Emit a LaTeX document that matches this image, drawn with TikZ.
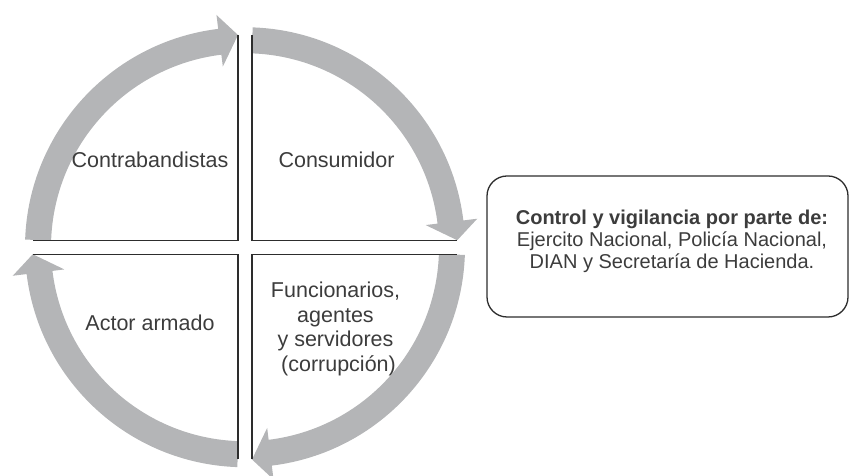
\documentclass[tikz,border=0pt]{standalone}
\usepackage{fontspec}
\setmainfont{Liberation Sans}
\definecolor{arrowgray}{RGB}{180,181,183}
\definecolor{linegray}{RGB}{45,45,45}
\definecolor{textgray}{RGB}{60,60,60}
\begin{document}
\begin{tikzpicture}[x=1pt,y=1pt,
  cyclearrow/.style={fill=arrowgray},
  quadline/.style={draw=linegray,line width=1.3pt,line join=miter},
  quadtext/.style={font=\fontsize{21.5}{24.5}\selectfont,text=textgray,inner sep=0pt,align=center},
  boxtext/.style={font=\fontsize{20}{21.7}\selectfont,text=textgray,inner sep=0pt,align=center},
  ctrlbox/.style={draw=linegray,line width=1.3pt,rounded corners=20pt,minimum width=361pt,minimum height=141pt,inner sep=0pt}]
\useasboundingbox (0,0) rectangle (849,476);
\begin{scope}[shift={(245,228.75)}]
  \foreach \r in {0,-90,-180,-270} {
    \begin{scope}[rotate=\r]
      \fill[cyclearrow] (178:220pt) arc[start angle=178,end angle=97,radius=220pt]
        -- (97:234pt) -- (-7pt,212.25pt) -- (97:182pt) -- (97:194pt)
        arc[start angle=97,end angle=178,radius=194pt] -- cycle;
    \end{scope}
  }
  \coordinate (tlA) at (-7,212.25);  \coordinate (tlO) at (-7,7);  \coordinate (tlB) at (-212.25,7);
  \coordinate (trA) at (7,212.25);   \coordinate (trO) at (7,7);   \coordinate (trB) at (212.25,7);
  \coordinate (brA) at (7,-212.25);  \coordinate (brO) at (7,-7);  \coordinate (brB) at (212.25,-7);
  \coordinate (blA) at (-7,-212.25); \coordinate (blO) at (-7,-7); \coordinate (blB) at (-212.25,-7);
  \draw[quadline] (tlA) -- (tlO) -- (tlB);
  \draw[quadline] (trA) -- (trO) -- (trB);
  \draw[quadline] (brA) -- (brO) -- (brB);
  \draw[quadline] (blA) -- (blO) -- (blB);
\end{scope}
\node[quadtext,anchor=base] (contra) at (150,308) {Contrabandistas};
\node[quadtext,anchor=base] (consu) at (336.5,308) {Consumidor};
\node[quadtext,anchor=base] (actor) at (150,145) {Actor armado};
\node[quadtext,anchor=center] (func) at (335.5,147) {Funcionarios,\\agentes\\y servidores\\\hspace{6pt}(corrupción)};
\node[ctrlbox] (ctrl) at (667.5,229.5) {};
\node[boxtext] (ctrltxt) at (672,234.7) {\textbf{Control y vigilancia por parte de:}\\Ejercito Nacional, Policía Nacional,\\DIAN y Secretaría de Hacienda.};
\end{tikzpicture}
\end{document}
